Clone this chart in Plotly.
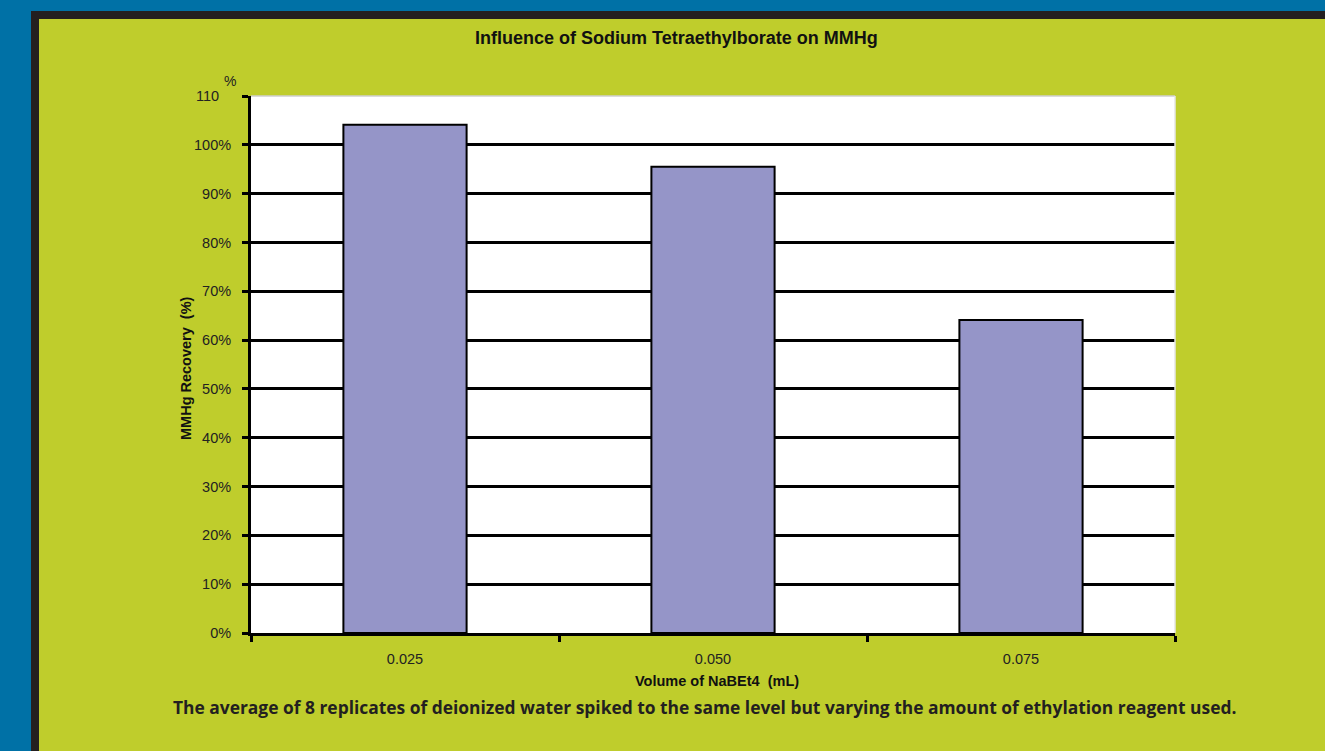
import plotly.graph_objects as go

# Recovery of methylmercury (MMHg) versus ethylation reagent volume
volumes = ["0.025", "0.050", "0.075"]
recovery = [104.1, 95.5, 64.1]

y_ticks = [0, 10, 20, 30, 40, 50, 60, 70, 80, 90, 100, 110]
y_tick_text = ["0%", "10%", "20%", "30%", "40%", "50%", "60%", "70%", "80%", "90%", "100%",
               "110&nbsp;&nbsp;&nbsp;"]

W, H = 1325, 751
L, R, T, B = 251, 1175, 96, 633  # plot area in pixels
PW, PH = R - L, B - T

GREEN = "#bfcd2c"
BLUE = "#0071a6"
DARK = "#231f20"
BAR = "#9595c8"
FONT = "Liberation Sans, Arial, sans-serif"


def px(x):
    return (x - L) / PW


def py(y):
    return (B - y) / PH


fig = go.Figure(
    go.Bar(
        x=volumes,
        y=recovery,
        width=0.4,
        marker=dict(color=BAR, line=dict(color="black", width=2)),
        hoverinfo="x+y",
    )
)

shapes = [
    # outer blue frame
    dict(type="rect", xref="paper", yref="paper", x0=px(0), x1=px(31), y0=py(H), y1=py(0),
         fillcolor=BLUE, line=dict(width=0), layer="below"),
    dict(type="rect", xref="paper", yref="paper", x0=px(0), x1=px(W), y0=py(11), y1=py(0),
         fillcolor=BLUE, line=dict(width=0), layer="below"),
    # dark border around the green panel
    dict(type="rect", xref="paper", yref="paper", x0=px(31), x1=px(39), y0=py(H), y1=py(11),
         fillcolor=DARK, line=dict(width=0), layer="below"),
    dict(type="rect", xref="paper", yref="paper", x0=px(31), x1=px(W), y0=py(19), y1=py(11),
         fillcolor=DARK, line=dict(width=0), layer="below"),
    # thin grey edge along top/right of plot area
    dict(type="line", xref="paper", yref="paper", x0=0, x1=1, y0=1, y1=1,
         line=dict(color="#cfcfcf", width=1.5)),
    dict(type="line", xref="paper", yref="paper", x0=1, x1=1, y0=0, y1=1,
         line=dict(color="#e6e6e6", width=1.5)),
]

annotations = [
    dict(text="<b>Influence of Sodium Tetraethylborate on MMHg</b>", x=px(676), y=py(38),
         xref="paper", yref="paper", showarrow=False, xanchor="center", yanchor="middle",
         font=dict(family=FONT, size=18, color="#111111")),
    dict(text="%", x=px(230), y=py(81), xref="paper", yref="paper", showarrow=False,
         xanchor="center", yanchor="middle", font=dict(family=FONT, size=14, color="#222222")),
    dict(text="<b>MMHg Recovery  (%)</b>", x=px(186), y=py(368), xref="paper", yref="paper",
         showarrow=False, textangle=-90, xanchor="center", yanchor="middle",
         font=dict(family=FONT, size=14.5, color="#111111")),
    dict(text="<b>Volume of NaBEt4  (mL)</b>", x=px(717), y=py(681), xref="paper", yref="paper",
         showarrow=False, xanchor="center", yanchor="middle",
         font=dict(family=FONT, size=14.5, color="#111111")),
    dict(text="<b>The average of 8 replicates of deionized water spiked to the same level but varying the amount of ethylation reagent used.</b>",
         x=px(704), y=py(707), xref="paper", yref="paper", showarrow=False,
         xanchor="center", yanchor="middle",
         font=dict(family="Open Sans, Lato, sans-serif", size=17.4, color=DARK)),
]

fig.update_layout(
    width=W,
    height=H,
    margin=dict(l=L, r=W - R, t=T, b=H - B, pad=0),
    paper_bgcolor=GREEN,
    plot_bgcolor="white",
    showlegend=False,
    bargap=0.6,
    shapes=shapes,
    annotations=annotations,
    xaxis=dict(
        type="category",
        tickson="boundaries",
        ticks="outside",
        ticklen=6,
        tickwidth=3,
        tickcolor="black",
        ticklabelstandoff=11,
        showline=True,
        linecolor="black",
        linewidth=3,
        showgrid=False,
        tickfont=dict(family=FONT, size=14.5, color="#222222"),
        fixedrange=True,
    ),
    yaxis=dict(
        range=[0, 110],
        tickvals=y_ticks,
        ticktext=y_tick_text,
        ticks="outside",
        ticklen=6,
        tickwidth=3,
        tickcolor="black",
        ticklabelstandoff=8,
        showline=True,
        linecolor="black",
        linewidth=3,
        showgrid=True,
        gridcolor="black",
        gridwidth=3,
        zeroline=False,
        tickfont=dict(family=FONT, size=14.5, color="#222222"),
        fixedrange=True,
    ),
)

fig.write_html("out.html")
